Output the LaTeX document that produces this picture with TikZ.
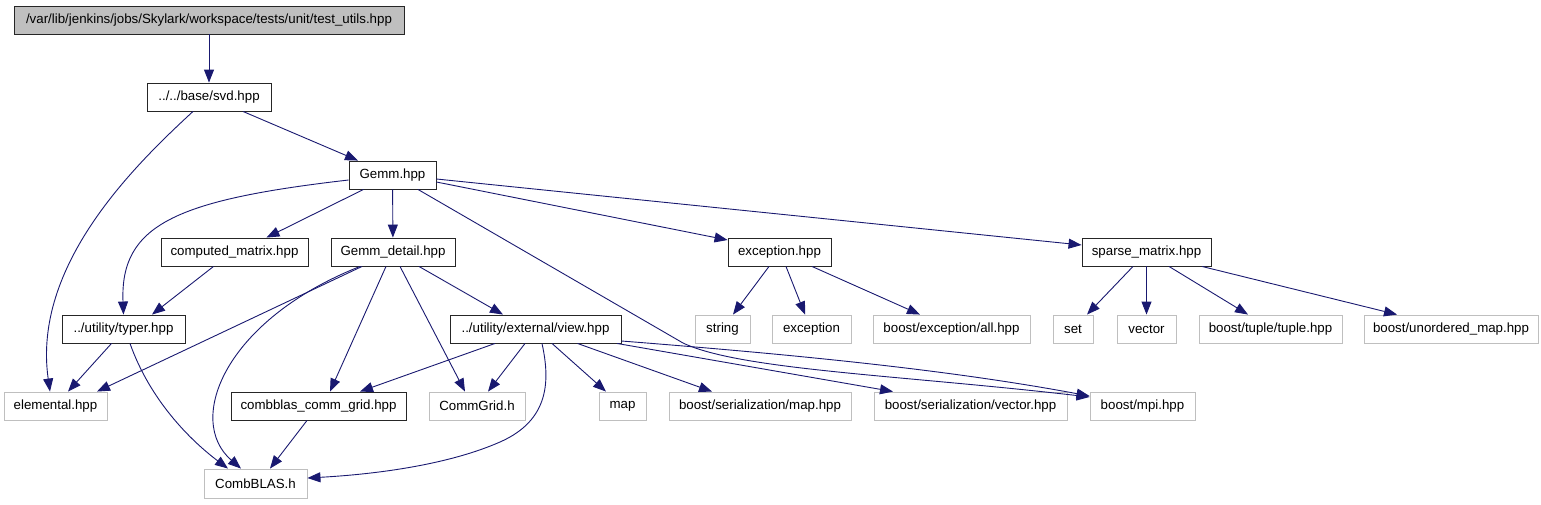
\documentclass[tikz,border=0pt]{standalone}
\usepackage{fontspec}
\setmainfont{Liberation Sans}
\usetikzlibrary{arrows.meta}
\definecolor{edgecol}{HTML}{191970}
\definecolor{gborder}{HTML}{BFBFBF}
\begin{document}
\begin{tikzpicture}[x=1pt,y=-1pt,
  base/.style={rectangle, minimum height=28pt, inner sep=0pt, font=\fontsize{13.3}{15}\selectfont, line width=0.9pt},
  bx/.style={base, draw=black!85, fill=white},
  gx/.style={base, draw=gborder, fill=white},
  rootx/.style={base, draw=black!85, fill=gborder},
  dep/.style={draw=edgecol, line width=0.9pt, -{Triangle[length=13pt,width=10pt]}},
]
\useasboundingbox (0,0) rectangle (1541,504);
% row 0
\node[rootx, minimum width=390pt] (root) at (209,20) {/var/lib/jenkins/jobs/Skylark/workspace/tests/unit/test\_utils.hpp};
% row 1
\node[bx, minimum width=124pt] (svd) at (209,97) {../../base/svd.hpp};
% row 2
\node[bx, minimum width=87pt] (Gemm) at (392.5,175) {Gemm.hpp};
% row 3
\node[bx, minimum width=147pt] (cm) at (234.5,252) {computed\_matrix.hpp};
\node[bx, minimum width=124pt] (gd) at (393,252) {Gemm\_detail.hpp};
\node[bx, minimum width=103pt] (exc) at (779.5,252) {exception.hpp};
\node[bx, minimum width=129pt] (sparse) at (1146.5,252) {sparse\_matrix.hpp};
% row 4
\node[bx, minimum width=123pt] (typer) at (123.5,329) {../utility/typer.hpp};
\node[bx, minimum width=171pt] (view) at (535.5,329) {../utility/external/view.hpp};
\node[gx, minimum width=55pt] (string) at (722.5,329) {string};
\node[gx, minimum width=79pt] (exception) at (811.5,329) {exception};
\node[gx, minimum width=157pt] (excall) at (951.5,329) {boost/exception/all.hpp};
\node[gx, minimum width=40pt] (set) at (1073,329) {set};
\node[gx, minimum width=59pt] (vector) at (1146.5,329) {vector};
\node[gx, minimum width=143pt] (tuple) at (1270.5,329) {boost/tuple/tuple.hpp};
\node[gx, minimum width=174pt] (unordered) at (1451,329) {boost/unordered\_map.hpp};
% row 5
\node[gx, minimum width=103pt] (elemental) at (55.5,406) {elemental.hpp};
\node[bx, minimum width=175pt] (ccg) at (318.5,406) {combblas\_comm\_grid.hpp};
\node[gx, minimum width=96pt] (commgrid) at (477,406) {CommGrid.h};
\node[gx, minimum width=47pt] (map) at (622.5,406) {map};
\node[gx, minimum width=182pt] (sermap) at (760,406) {boost/serialization/map.hpp};
\node[gx, minimum width=193pt] (servec) at (970.5,406) {boost/serialization/vector.hpp};
\node[gx, minimum width=105pt] (mpi) at (1142.5,406) {boost/mpi.hpp};
% row 6
\node[gx, minimum width=103pt, minimum height=29pt] (combblas) at (255.5,483.5) {CombBLAS.h};

% edges
\draw[dep] (root) -- (svd);
\draw[dep] ([xshift=34pt]svd.south) -- ([xshift=-34.5pt]Gemm.north);
\draw[dep] ([xshift=-16pt]svd.south) .. controls (135,165) and (32,265) .. ([xshift=-5.5pt]elemental.north);
\draw[dep] ([xshift=-29pt]Gemm.south) -- ([xshift=32pt]cm.north);
\draw[dep] (Gemm) -- (gd);
\draw[dep] ([yshift=-5pt]Gemm.west) .. controls (175,200) and (120,225) .. (typer.north);
\draw[dep] ([yshift=-7pt]Gemm.east) -- ([yshift=12pt]exc.west);
\draw[dep] ([yshift=-4pt]Gemm.east) -- ([yshift=7pt]sparse.west);
\draw[dep] ([xshift=25.5pt]Gemm.south) -- (683,343) .. controls (740,370) and (900,375) .. ([yshift=9pt]mpi.west);

\draw[dep] ([xshift=-31pt]gd.south) -- ([xshift=41.5pt]elemental.north);
\draw[dep] ([xshift=-33pt]gd.south) .. controls (225,320) and (185,420) .. ([xshift=-14.5pt]combblas.north);
\draw[dep] ([xshift=-7pt]gd.south) -- ([xshift=11.5pt]ccg.north);
\draw[dep] ([xshift=7pt]gd.south) -- ([xshift=-12pt]commgrid.north);
\draw[dep] ([xshift=26pt]gd.south) -- ([xshift=-32.5pt]view.north);

\draw[dep] ([xshift=-21pt]cm.south) -- ([xshift=28.5pt]typer.north);
\draw[dep] ([xshift=-12pt]typer.south) -- ([xshift=12.5pt]elemental.north);
\draw[dep] ([xshift=6.5pt]typer.south) .. controls (150,400) and (190,440) .. ([xshift=-27.5pt]combblas.north);
\draw[dep] ([xshift=-11.5pt]ccg.south) -- ([xshift=14.5pt]combblas.north);

\draw[dep] ([xshift=-40.5pt]view.south) -- ([xshift=41.5pt]ccg.north);
\draw[dep] ([xshift=-10.5pt]view.south) -- ([xshift=11pt]commgrid.north);
\draw[dep] ([xshift=6.5pt]view.south) .. controls (550,380) and (550,420) .. (500,442) .. controls (450,464) and (380,474) .. ([yshift=5.5pt]combblas.east);
\draw[dep] ([xshift=16.5pt]view.south) -- ([xshift=-16.5pt]map.north);
\draw[dep] ([xshift=42pt]view.south) -- ([xshift=-48pt]sermap.north);
\draw[dep] ([xshift=81.5pt]view.south) -- ([xshift=-77.5pt]servec.north);
\draw[dep] ([yshift=-12pt]view.east) .. controls (800,355) and (950,370) .. ([yshift=10pt]mpi.west);

\draw[dep] ([xshift=-10.5pt]exc.south) -- ([xshift=10.5pt]string.north);
\draw[dep] ([xshift=6.5pt]exc.south) -- ([xshift=-6.5pt]exception.north);
\draw[dep] ([xshift=32.5pt]exc.south) -- ([xshift=-31.5pt]excall.north);

\draw[dep] ([xshift=-13.5pt]sparse.south) -- ([xshift=14pt]set.north);
\draw[dep] (sparse) -- (vector);
\draw[dep] ([xshift=22.5pt]sparse.south) -- ([xshift=-22.5pt]tuple.north);
\draw[dep] ([xshift=55.5pt]sparse.south) -- ([xshift=-54pt]unordered.north);
\end{tikzpicture}
\end{document}
